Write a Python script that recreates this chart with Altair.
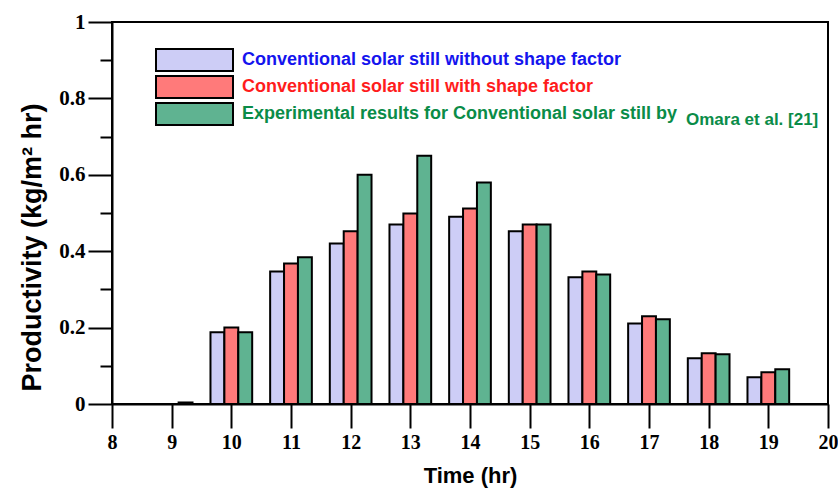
import altair as alt
import pandas as pd

# ---- data ----
hours = [9, 10, 11, 12, 13, 14, 15, 16, 17, 18, 19]
without_sf = [0.0, 0.188, 0.347, 0.420, 0.470, 0.490, 0.452, 0.332, 0.211, 0.120, 0.070]
with_sf = [0.0, 0.200, 0.368, 0.452, 0.499, 0.512, 0.470, 0.347, 0.230, 0.133, 0.083]
experimental = [0.004, 0.188, 0.384, 0.600, 0.650, 0.580, 0.470, 0.339, 0.222, 0.130, 0.091]

series_names = [
    "Conventional solar still without shape factor",
    "Conventional solar still with shape factor",
    "Experimental results for Conventional solar still by",
]
citation = ["Omara et al. [21]"]
fill_colors = ["#cdcdf6", "#ff7a7a", "#5fb391"]
label_colors = ["#1414ee", "#ff1c1c", "#0a8c48"]

x_tick_values = [8 + 0.5 * i for i in range(25)]
y_tick_values = [round(0.1 * i, 1) for i in range(11)]

rows = []
for idx, (name, vals) in enumerate(zip(series_names, [without_sf, with_sf, experimental])):
    for h, v in zip(hours, vals):
        rows.append({"hour": h, "value": v, "series": name, "idx": idx})
df = pd.DataFrame(rows)

label_color_expr = (
    f"datum.value == '{series_names[0]}' ? '{label_colors[0]}' : "
    f"(datum.value == '{series_names[1]}' ? '{label_colors[1]}' : '{label_colors[2]}')"
)

bar_w = 0.233

bars = (
    alt.Chart(df)
    .transform_calculate(x0=f"datum.hour + (datum.idx - 1.5) * {bar_w}")
    .transform_calculate(x1=f"datum.x0 + {bar_w}")
    .mark_bar(stroke="black", strokeWidth=2, opacity=1)
    .encode(
        x=alt.X(
            "x0:Q",
            scale=alt.Scale(domain=[8, 20], nice=False, zero=False),
            axis=alt.Axis(
                title="Time (hr)",
                values=x_tick_values,
                labelExpr="datum.value % 1 == 0 ? datum.label : ''",
                format="d",
                tickSize={"condition": {"test": "datum.value % 1 == 0", "value": 24}, "value": 12},
                labelPadding=4,
                labelFlush=False,
                labelFontSize=20,
                titlePadding=13,
                titleFontSize=22,
            ),
        ),
        x2="x1:Q",
        y=alt.Y(
            "value:Q",
            scale=alt.Scale(domain=[0, 1], nice=False),
            axis=alt.Axis(
                title="Productivity (kg/m² hr)",
                values=y_tick_values,
                format="~g",
                labelExpr="round(datum.value * 10) % 2 == 0 ? datum.label : ''",
                tickSize={"condition": {"test": "round(datum.value * 10) % 2 == 0", "value": 24}, "value": 12},
                labelPadding=3,
                labelFlush=False,
                labelFontSize=21,
                titleFontSize=27,
                titleX=-80,
                titleY=225,
                titleBaseline="middle",
                titleAlign="center",
            ),
        ),
        y2=alt.datum(0),
        fill=alt.Fill(
            "series:N",
            scale=alt.Scale(domain=series_names, range=fill_colors),
            legend=alt.Legend(
                title=None,
                orient="none",
                legendX=32,
                legendY=26,
                padding=0,
                symbolType="M0,-1H7V1H0Z",
                symbolSize=484,
                symbolStrokeColor="black",
                symbolStrokeWidth=2,
                symbolOpacity=1,
                labelOffset=74,
                labelFont="Liberation Sans",
                labelFontWeight="bold",
                labelFontSize=18,
                labelLimit=900,
                labelColor={"expr": label_color_expr},
                rowPadding=-7,
            ),
        ),
    )
)

omara = (
    alt.Chart(pd.DataFrame({"t": citation}))
    .mark_text(
        font="Liberation Sans",
        fontWeight="bold",
        fontSize=17,
        color=label_colors[2],
        align="left",
        baseline="alphabetic",
    )
    .encode(x=alt.value(574), y=alt.value(103), text="t:N")
)

chart = (
    alt.layer(bars, omara)
    .properties(
        width=716,
        height=382,
        padding={"left": 112, "top": 22, "right": 10, "bottom": 93},
        autosize=alt.AutoSizeParams(type="none"),
        background="white",
    )
    .configure_view(stroke="black", strokeWidth=2)
    .configure_axis(
        grid=False,
        domainColor="black",
        domainWidth=2,
        tickColor="black",
        tickWidth=2,
        labelFont="Liberation Serif",
        labelFontWeight="bold",
        labelColor="black",
        titleFont="Liberation Sans",
        titleFontWeight="bold",
        titleColor="black",
    )
)

chart.save("out.html", embed_options={"renderer": "svg", "actions": False})
